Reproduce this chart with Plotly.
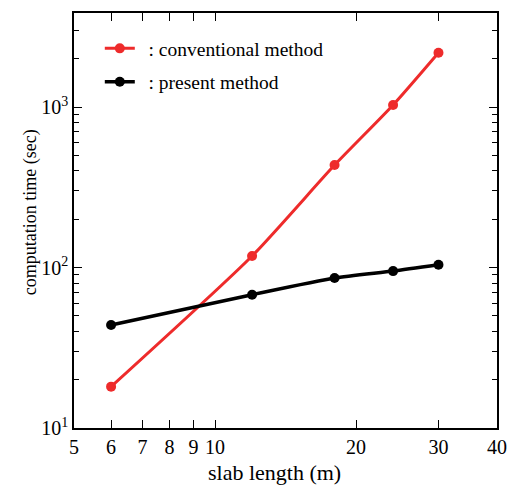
import plotly.graph_objects as go

slab_length = [6, 12, 18, 24, 30]
conventional = [18.1, 118, 435, 1030, 2180]
present = [43.8, 67.7, 86, 95, 104]

x_ticks = [5, 6, 7, 8, 9, 10, 20, 30, 40]
y_ticks = [10, 100, 1000]
y_ticktext = ["10<sup>1</sup>", "10<sup>2</sup>", "10<sup>3</sup>"]
y_minor = [m * 10 ** e for e in (1, 2, 3) for m in range(2, 10) if m * 10 ** e < 3900]

FONT = "Liberation Serif"
PAD = "\u00a0\u2009"

fig = go.Figure()
fig.add_trace(go.Scatter(
    x=slab_length, y=conventional, mode="lines+markers",
    name=PAD + ": conventional method", legendgroup="a",
    line=dict(color="#ee2b2b", width=3, shape="spline", smoothing=0.6),
    marker=dict(color="#ee2b2b", size=10),
))
fig.add_trace(go.Scatter(
    x=slab_length, y=present, mode="lines+markers",
    name=PAD + ": present method", legendgroup="b",
    line=dict(color="black", width=3.5, shape="spline", smoothing=0.6),
    marker=dict(color="black", size=10),
))

fig.update_layout(
    width=512, height=477,
    margin=dict(l=66, r=23, t=5, b=57, autoexpand=False),
    plot_bgcolor="white", paper_bgcolor="white",
    font=dict(family=FONT, size=19, color="black"),
    showlegend=True,
    legend=dict(x=0.061, y=0.961, xanchor="left", yanchor="top",
                bgcolor="rgba(0,0,0,0)", font=dict(size=19.5, family=FONT),
                tracegroupgap=5),
    annotations=[
        dict(text="slab length (m)", xref="paper", yref="paper",
             x=0.475, y=-0.108, xanchor="center", yanchor="middle",
             showarrow=False, font=dict(size=22, family=FONT)),
        dict(text="computation time (sec)", xref="paper", yref="paper",
             x=-0.104, y=0.52, xanchor="center", yanchor="middle", textangle=-90,
             showarrow=False, font=dict(size=18, family=FONT)),
    ],
)
fig.update_xaxes(
    type="log", range=[0.69897, 1.60206], automargin=False,
    tickmode="array", tickvals=x_ticks, ticktext=[str(v) for v in x_ticks],
    ticks="inside", ticklen=8, tickwidth=1, tickcolor="black",
    showline=True, linecolor="black", linewidth=1.5, mirror="ticks",
    showgrid=False, zeroline=False,
    tickfont=dict(size=20, family=FONT),
)
fig.update_yaxes(
    type="log", range=[1, 3.586], automargin=False,
    tickmode="array", tickvals=y_ticks, ticktext=y_ticktext,
    ticks="inside", ticklen=8, tickwidth=1, tickcolor="black",
    minor=dict(tickmode="array", tickvals=y_minor, ticks="inside", ticklen=5,
               tickwidth=1, tickcolor="black", showgrid=False),
    showline=True, linecolor="black", linewidth=1.5, mirror="ticks",
    showgrid=False, zeroline=False,
    tickfont=dict(size=20, family=FONT),
)

fig.write_html("out.html")
